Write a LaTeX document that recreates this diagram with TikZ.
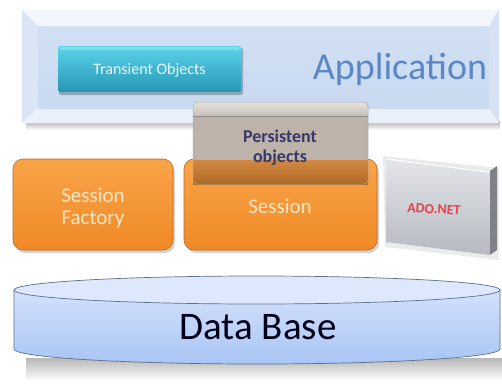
\documentclass[tikz,border=0pt]{standalone}
\usepackage{fontspec}
\setmainfont{Carlito}
\definecolor{panelin}{HTML}{C9DAF1}
\definecolor{paneltop}{HTML}{F3F7FC}
\definecolor{panelleft}{HTML}{DAE5F5}
\definecolor{panelbot}{HTML}{EBF1FA}
\definecolor{panelright}{HTML}{D6E2F3}
\definecolor{apptext}{HTML}{5B87C6}
\definecolor{tealtop}{HTML}{5CD4EA}
\definecolor{tealbot}{HTML}{2696B4}
\definecolor{orangetop}{HTML}{F9A449}
\definecolor{orangebot}{HTML}{F08A26}
\definecolor{orangeedge}{HTML}{B9672A}
\definecolor{orangetext}{HTML}{FDE6C8}
\definecolor{perstop}{HTML}{DCD5CE}
\definecolor{persbody}{HTML}{BDB3AA}
\definecolor{persover}{HTML}{CD7B2D}
\definecolor{perstext}{HTML}{36386A}
\definecolor{silvertop}{HTML}{E4E6EA}
\definecolor{silverbot}{HTML}{B6BAC0}
\definecolor{silverside}{HTML}{7E8288}
\definecolor{adotext}{HTML}{E8414C}
\definecolor{dbtop}{HTML}{DDE8FC}
\definecolor{dbhi}{HTML}{D3E1FB}
\definecolor{dblo}{HTML}{A9C5F5}
\definecolor{dbline}{HTML}{5E6F88}
\tikzset{
  orangebox/.style={top color=orangetop, bottom color=orangebot,
    draw=orangeedge, line width=0.6pt, rounded corners=10pt},
  boxshadow/.style={fill=black, opacity=0.18, rounded corners=10pt},
  orangelabel/.style={text=orangetext, font=\fontsize{21}{22}\selectfont,
    align=center},
}
\begin{document}
\begin{tikzpicture}[x=1pt,y=-1pt]
\useasboundingbox (0,0) rectangle (502,383);
\fill[white] (0,0) rectangle (502,383);

% ---- application panel (bevelled frame) ----
\shade[top color=black!30, bottom color=white] (26,121) rectangle (500,130);
\fill[paneltop]   (22,10) -- (499,10) -- (489,26) -- (38,26) -- cycle;
\fill[panelleft]  (22,10) -- (38,26) -- (38,108) -- (22,123) -- cycle;
\fill[panelbot]   (22,123) -- (38,108) -- (489,108) -- (499,123) -- cycle;
\fill[panelright] (499,10) -- (489,26) -- (489,108) -- (499,123) -- cycle;
\shade[top color=panelin!85!white, bottom color=panelin] (38,26) rectangle (489,108);

% transient objects button
\fill[black, opacity=0.25, rounded corners=2pt] (59,48) rectangle (243,95);
\shade[top color=tealtop, bottom color=tealbot, rounded corners=2pt]
  (58,46) rectangle (241,92);
\fill[white, opacity=0.25] (60,47) rectangle (239,50);
\node[text=white!92!cyan, font=\fontsize{16}{17}\selectfont] (transient)
  at (149.5,70) {Transient Objects};

\node[text=apptext, font=\fontsize{38}{40}\selectfont] (apptitle)
  at (400,69) {Application};

% ---- session layer ----
\fill[boxshadow] (15,162) rectangle (175,253);
\shade[orangebox] (13,159) rectangle (173,250);
\node[orangelabel] (factory) at (93,208) {Session\\Factory};

\fill[boxshadow] (186,162) rectangle (379,253);
\shade[orangebox] (184,159) rectangle (377,250);
\node[orangelabel] (session) at (280,206) {Session};

% persistent objects block sitting on the session box
\shade[top color=perstop!70!white, bottom color=perstop!90!black,
  rounded corners=4pt] (193,116) -- (193,102) -- (368,102) -- (368,116);
\fill[persbody] (193,116) rectangle (368,160);
\shade[top color=persover!90!white, bottom color=persover!85!black]
  (193,160) rectangle (368,184);
\draw[black!45, line width=0.5pt] (193,116) -- (368,116);
\draw[black!35, line width=0.5pt, rounded corners=4pt]
  (193,184) -- (193,102) -- (368,102) -- (368,184) -- cycle;
\node[text=perstext, font=\bfseries\fontsize{18}{20}\selectfont, align=center]
  (persistent) at (280,148) {Persistent\\objects};

% ADO.NET slab
\fill[black, opacity=0.08] (383,156) -- (499,168) -- (499,260) -- (385,247) -- cycle;
\fill[silverside] (490,171) -- (497,166) -- (497,250) -- (490,255) -- cycle;
\shade[top color=silvertop, bottom color=silverbot]
  (386,157) -- (490,171) -- (490,255) -- (386,242) -- cycle;
\draw[white, line width=1.2pt] (387,159) -- (489,172);
\node[text=adotext, font=\bfseries\fontsize{14}{14}\selectfont, rotate=-3]
  (ado) at (434,209) {ADO.NET};

% ---- data base cylinder ----
\shade[top color=black!28, bottom color=white] (26,358) rectangle (502,381);
\shade[top color=dbhi, bottom color=dblo, draw=dbline, line width=0.7pt]
  (14,290) -- (14,349) arc[start angle=180, end angle=0, x radius=243, y radius=15]
  -- (500,290) -- cycle;
\filldraw[fill=dbtop, draw=dbline, line width=0.7pt]
  (257,290) ellipse [x radius=243, y radius=14];
\node[text=black!90!blue, font=\fontsize{39}{40}\selectfont] (database)
  at (258,327) {Data Base};
\end{tikzpicture}
\end{document}
